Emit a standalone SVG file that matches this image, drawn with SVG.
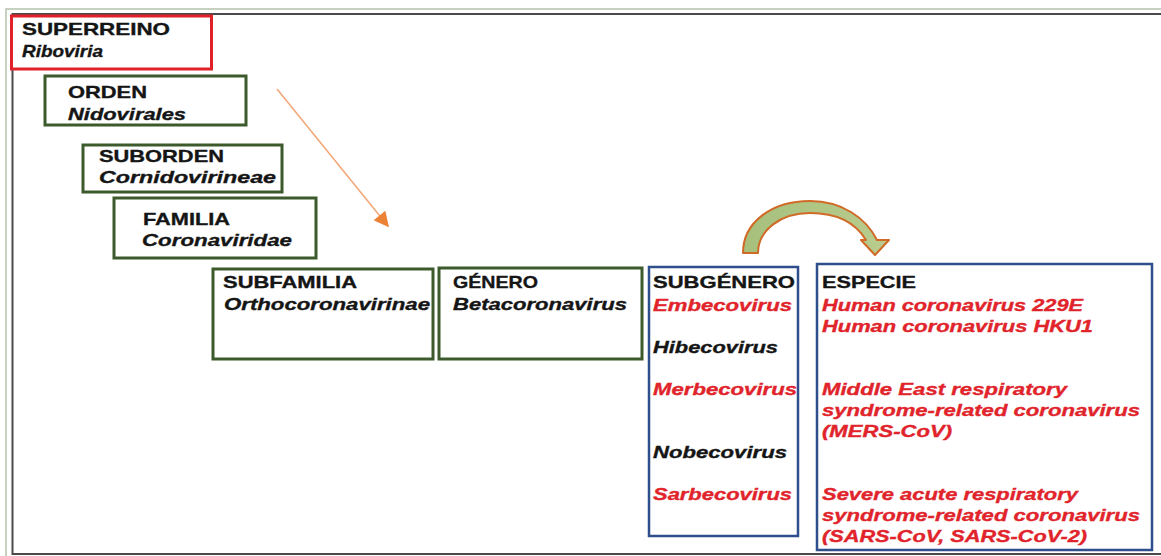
<svg xmlns="http://www.w3.org/2000/svg" width="1161" height="556" viewBox="0 0 1161 556">
<defs>
<style>
.t{font-family:"Liberation Sans",Arial,sans-serif;font-size:17px;font-weight:bold;fill:#151515;stroke:#151515;stroke-width:0.35}
.i{font-style:italic}
.r{fill:#e1242b;stroke:#e1242b}
.g{fill:#fff;stroke:#3c5a2c;stroke-width:3}
.b{fill:#fff;stroke:#2f4e8c;stroke-width:2.5}
</style>
<linearGradient id="gr" x1="0" y1="0" x2="1" y2="0">
<stop offset="0" stop-color="#a6c07c"/><stop offset="1" stop-color="#b9cc8e"/>
</linearGradient>
<marker id="ah" viewBox="0 0 10 10" refX="9" refY="5" markerWidth="16" markerHeight="15" markerUnits="userSpaceOnUse" orient="auto">
<path d="M0,0 L10,5 L0,10 Z" fill="#ec8236"/>
</marker>
</defs>
<rect width="1161" height="556" fill="#fff"/>
<rect x="6" y="9" width="1160" height="550" fill="none" stroke="#b4c2ac" stroke-width="1.5"/>
<rect x="12.5" y="14" width="1150" height="540" fill="none" stroke="#4a4a4a" stroke-width="2"/>

<g id="superreino">
<rect x="11.5" y="16" width="200" height="53" fill="#fff" stroke="#e0212a" stroke-width="3"/>
<text class="t" x="22" y="35" textLength="148" lengthAdjust="spacingAndGlyphs">SUPERREINO</text>
<text class="t i" x="22" y="57" textLength="81" lengthAdjust="spacingAndGlyphs">Riboviria</text>
</g>
<g id="orden">
<rect class="g" x="45" y="76" width="201" height="49"/>
<text class="t" x="68" y="98" textLength="79" lengthAdjust="spacingAndGlyphs">ORDEN</text>
<text class="t i" x="68" y="120" textLength="118" lengthAdjust="spacingAndGlyphs">Nidovirales</text>
</g>
<g id="suborden">
<rect class="g" x="83" y="145" width="199" height="47"/>
<text class="t" x="99" y="162" textLength="125" lengthAdjust="spacingAndGlyphs">SUBORDEN</text>
<text class="t i" x="99" y="183" textLength="177" lengthAdjust="spacingAndGlyphs">Cornidovirineae</text>
</g>
<g id="familia">
<rect class="g" x="114" y="198" width="202" height="60"/>
<text class="t" x="143" y="225" textLength="87" lengthAdjust="spacingAndGlyphs">FAMILIA</text>
<text class="t i" x="142" y="246" textLength="150" lengthAdjust="spacingAndGlyphs">Coronaviridae</text>
</g>
<g id="subfamilia">
<rect class="g" x="213" y="269" width="220" height="90"/>
<text class="t" x="223" y="288" textLength="134" lengthAdjust="spacingAndGlyphs">SUBFAMILIA</text>
<text class="t i" x="224" y="310" textLength="206" lengthAdjust="spacingAndGlyphs">Orthocoronavirinae</text>
</g>
<g id="genero">
<rect class="g" x="439" y="268" width="203" height="91"/>
<text class="t" x="453" y="288" textLength="85" lengthAdjust="spacingAndGlyphs">GÉNERO</text>
<text class="t i" x="453" y="310" textLength="174" lengthAdjust="spacingAndGlyphs">Betacoronavirus</text>
</g>
<g id="subgenero">
<rect class="b" x="649" y="267" width="149" height="269"/>
<text class="t" x="653" y="288" textLength="142" lengthAdjust="spacingAndGlyphs">SUBGÉNERO</text>
<text class="t i r" x="653" y="311" textLength="139" lengthAdjust="spacingAndGlyphs">Embecovirus</text>
<text class="t i" x="653" y="353" textLength="125" lengthAdjust="spacingAndGlyphs">Hibecovirus</text>
<text class="t i r" x="653" y="395" textLength="144" lengthAdjust="spacingAndGlyphs">Merbecovirus</text>
<text class="t i" x="653" y="458" textLength="134" lengthAdjust="spacingAndGlyphs">Nobecovirus</text>
<text class="t i r" x="653" y="500" textLength="139" lengthAdjust="spacingAndGlyphs">Sarbecovirus</text>
</g>
<g id="especie">
<rect class="b" x="817" y="264" width="335" height="286"/>
<text class="t" x="822" y="288" textLength="94" lengthAdjust="spacingAndGlyphs">ESPECIE</text>
<text class="t i r" x="822" y="311" textLength="261" lengthAdjust="spacingAndGlyphs">Human coronavirus 229E</text>
<text class="t i r" x="822" y="332" textLength="271" lengthAdjust="spacingAndGlyphs">Human coronavirus HKU1</text>
<text class="t i r" x="822" y="395" textLength="245" lengthAdjust="spacingAndGlyphs">Middle East respiratory</text>
<text class="t i r" x="822" y="416" textLength="318" lengthAdjust="spacingAndGlyphs">syndrome-related coronavirus</text>
<text class="t i r" x="822" y="437" textLength="130" lengthAdjust="spacingAndGlyphs">(MERS-CoV)</text>
<text class="t i r" x="822" y="500" textLength="256" lengthAdjust="spacingAndGlyphs">Severe acute respiratory</text>
<text class="t i r" x="822" y="521" textLength="318" lengthAdjust="spacingAndGlyphs">syndrome-related coronavirus</text>
<text class="t i r" x="822" y="542" textLength="265" lengthAdjust="spacingAndGlyphs">(SARS-CoV, SARS-CoV-2)</text>
</g>

<g id="connectors">
<line x1="277" y1="89" x2="388" y2="226" stroke="#f2a676" stroke-width="1.5" marker-end="url(#ah)"/>
<path d="M743,253 C743,222 772,201 810,201 C842,201 866,218 877,240 L889,240 L875,255 L861,240 L866,240 C855,222 836,213 810,213 C781,213 758,230 758,253 Z" fill="url(#gr)" stroke="#d06a26" stroke-width="2" stroke-linejoin="round"/>
</g>
</svg>
